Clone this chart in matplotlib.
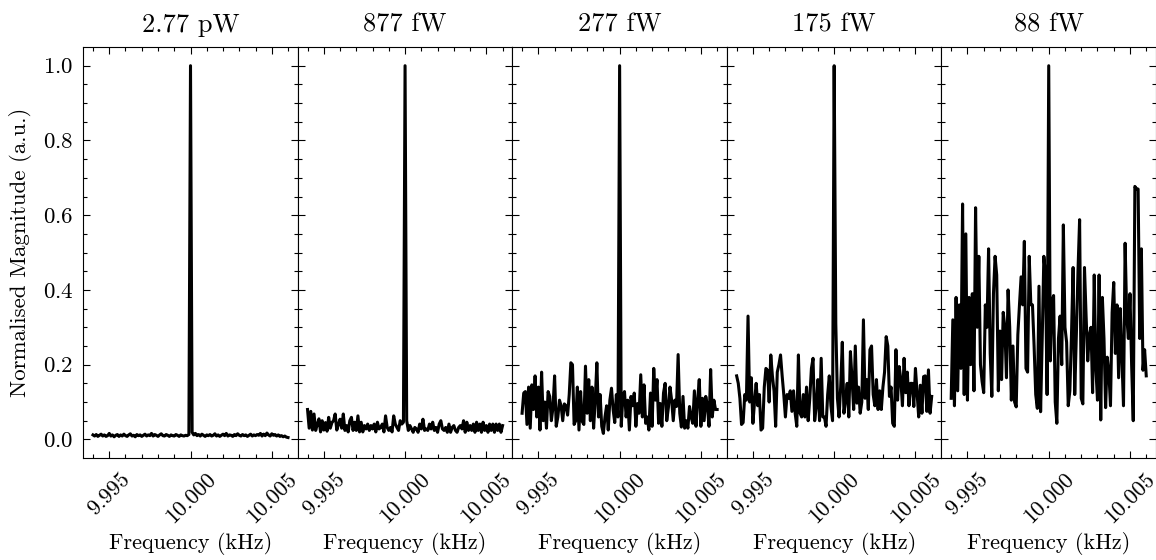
import numpy as np
import matplotlib.pyplot as plt

plt.rcParams["font.family"] = "cmr10"
plt.rcParams["mathtext.fontset"] = "cm"
plt.rcParams["axes.formatter.use_mathtext"] = True
plt.rcParams["axes.unicode_minus"] = False

# Frequency grid (kHz), 0.1 Hz steps around the 10 kHz tone
freq_start = 9.994
freq_step = 0.0001
n_points = 121

powers = ["2.77 pW", "877 fW", "277 fW", "175 fW", "88 fW"]

# Normalised magnitude for each received power
mag_2p77pw = [
    0.012, 0.009, 0.013, 0.008, 0.011, 0.014, 0.009, 0.012, 0.008, 0.010,
    0.016, 0.009, 0.012, 0.007, 0.011, 0.013, 0.008, 0.012, 0.009, 0.014,
    0.010, 0.008, 0.012, 0.015, 0.009, 0.011, 0.007, 0.013, 0.010, 0.012,
    0.008, 0.011, 0.014, 0.009, 0.012, 0.010, 0.016, 0.009, 0.013, 0.011,
    0.008, 0.012, 0.015, 0.010, 0.009, 0.013, 0.011, 0.008, 0.012, 0.010,
    0.009, 0.013, 0.011, 0.008, 0.012, 0.010, 0.009, 0.011, 0.010, 0.013,
    1.000, 0.019, 0.012, 0.016, 0.010, 0.013, 0.009, 0.014, 0.011, 0.008,
    0.012, 0.010, 0.013, 0.009, 0.011, 0.015, 0.009, 0.012, 0.008, 0.011,
    0.014, 0.010, 0.016, 0.009, 0.012, 0.011, 0.008, 0.013, 0.010, 0.015,
    0.011, 0.009, 0.013, 0.010, 0.012, 0.008, 0.011, 0.014, 0.009, 0.012,
    0.010, 0.013, 0.011, 0.016, 0.009, 0.014, 0.010, 0.017, 0.012, 0.009,
    0.015, 0.011, 0.013, 0.009, 0.012, 0.008, 0.010, 0.007, 0.009, 0.006,
    0.005,
]
mag_877fw = [
    0.080, 0.030, 0.075, 0.025, 0.068, 0.024, 0.040, 0.055, 0.020, 0.050,
    0.025, 0.045, 0.022, 0.059, 0.030, 0.045, 0.050, 0.068, 0.025, 0.040,
    0.054, 0.030, 0.068, 0.024, 0.037, 0.020, 0.050, 0.059, 0.024, 0.046,
    0.024, 0.063, 0.020, 0.046, 0.020, 0.037, 0.028, 0.041, 0.024, 0.037,
    0.028, 0.041, 0.020, 0.046, 0.028, 0.032, 0.041, 0.020, 0.063, 0.032,
    0.024, 0.032, 0.020, 0.063, 0.041, 0.032, 0.024, 0.050, 0.041, 0.046,
    1.000, 0.050, 0.024, 0.037, 0.028, 0.019, 0.032, 0.028, 0.019, 0.041,
    0.028, 0.054, 0.024, 0.028, 0.024, 0.041, 0.028, 0.046, 0.024, 0.032,
    0.019, 0.041, 0.050, 0.028, 0.024, 0.032, 0.019, 0.041, 0.019, 0.032,
    0.037, 0.024, 0.019, 0.032, 0.037, 0.028, 0.050, 0.019, 0.046, 0.024,
    0.037, 0.024, 0.041, 0.019, 0.046, 0.024, 0.041, 0.019, 0.046, 0.024,
    0.037, 0.019, 0.041, 0.024, 0.041, 0.019, 0.041, 0.024, 0.041, 0.019,
    0.037,
]
mag_277fw = [
    0.070, 0.124, 0.128, 0.040, 0.140, 0.030, 0.146, 0.080, 0.170, 0.060,
    0.140, 0.025, 0.180, 0.050, 0.100, 0.030, 0.128, 0.115, 0.050, 0.085,
    0.170, 0.035, 0.060, 0.105, 0.090, 0.050, 0.095, 0.090, 0.065, 0.120,
    0.205, 0.200, 0.040, 0.050, 0.140, 0.025, 0.128, 0.048, 0.040, 0.196,
    0.070, 0.160, 0.050, 0.140, 0.030, 0.105, 0.205, 0.060, 0.120, 0.035,
    0.016, 0.060, 0.090, 0.025, 0.105, 0.137, 0.080, 0.045, 0.120, 0.060,
    1.000, 0.035, 0.115, 0.128, 0.060, 0.105, 0.025, 0.115, 0.090, 0.124,
    0.035, 0.096, 0.070, 0.173, 0.060, 0.146, 0.043, 0.060, 0.025, 0.124,
    0.035, 0.190, 0.105, 0.160, 0.043, 0.096, 0.035, 0.124, 0.150, 0.050,
    0.085, 0.140, 0.105, 0.050, 0.105, 0.088, 0.227, 0.070, 0.033, 0.115,
    0.030, 0.050, 0.030, 0.088, 0.060, 0.043, 0.130, 0.035, 0.105, 0.160,
    0.035, 0.110, 0.050, 0.115, 0.090, 0.035, 0.187, 0.060, 0.105, 0.080,
    0.080,
]
mag_175fw = [
    0.170, 0.150, 0.110, 0.040, 0.045, 0.120, 0.105, 0.330, 0.100, 0.165,
    0.043, 0.100, 0.150, 0.090, 0.120, 0.025, 0.030, 0.140, 0.190, 0.185,
    0.100, 0.226, 0.170, 0.130, 0.035, 0.180, 0.200, 0.226, 0.170, 0.120,
    0.060, 0.120, 0.110, 0.130, 0.075, 0.130, 0.070, 0.035, 0.226, 0.070,
    0.060, 0.120, 0.060, 0.140, 0.050, 0.110, 0.190, 0.217, 0.050, 0.090,
    0.160, 0.050, 0.217, 0.060, 0.060, 0.035, 0.120, 0.170, 0.090, 0.050,
    1.000, 0.310, 0.110, 0.060, 0.140, 0.260, 0.070, 0.105, 0.150, 0.060,
    0.235, 0.160, 0.080, 0.250, 0.097, 0.140, 0.070, 0.100, 0.320, 0.110,
    0.160, 0.080, 0.240, 0.250, 0.120, 0.090, 0.160, 0.080, 0.130, 0.080,
    0.140, 0.180, 0.275, 0.250, 0.115, 0.140, 0.043, 0.035, 0.240, 0.105,
    0.195, 0.160, 0.090, 0.217, 0.125, 0.180, 0.090, 0.150, 0.150, 0.088,
    0.190, 0.125, 0.060, 0.145, 0.070, 0.168, 0.170, 0.075, 0.186, 0.070,
    0.115,
]
mag_88fw = [
    0.110, 0.320, 0.090, 0.380, 0.130, 0.360, 0.190, 0.630, 0.120, 0.550,
    0.105, 0.380, 0.200, 0.390, 0.130, 0.620, 0.300, 0.490, 0.200, 0.155,
    0.125, 0.360, 0.300, 0.510, 0.230, 0.115, 0.390, 0.490, 0.440, 0.130,
    0.290, 0.160, 0.340, 0.300, 0.165, 0.400, 0.300, 0.105, 0.250, 0.100,
    0.087, 0.280, 0.360, 0.435, 0.360, 0.530, 0.190, 0.180, 0.490, 0.360,
    0.360, 0.250, 0.120, 0.083, 0.410, 0.074, 0.270, 0.490, 0.440, 0.120,
    1.000, 0.210, 0.370, 0.385, 0.100, 0.043, 0.270, 0.330, 0.200, 0.574,
    0.300, 0.260, 0.090, 0.130, 0.280, 0.460, 0.120, 0.280, 0.450, 0.588,
    0.110, 0.095, 0.460, 0.330, 0.210, 0.280, 0.300, 0.125, 0.440, 0.190,
    0.105, 0.440, 0.052, 0.380, 0.270, 0.085, 0.220, 0.180, 0.090, 0.340,
    0.420, 0.230, 0.360, 0.165, 0.350, 0.220, 0.090, 0.525, 0.330, 0.270,
    0.390, 0.200, 0.050, 0.677, 0.670, 0.670, 0.270, 0.510, 0.185, 0.240,
    0.170,
]
spectra = [mag_2p77pw, mag_877fw, mag_277fw, mag_175fw, mag_88fw]

freq = freq_start + freq_step * np.arange(n_points)

fig, axes = plt.subplots(1, 5, sharey=True, figsize=(11.56, 5.6), dpi=100)
fig.subplots_adjust(left=0.072, right=1.0, top=0.916, bottom=0.182, wspace=0)

for ax, title, mag in zip(axes, powers, spectra):
    ax.plot(freq, mag, color="black", lw=2.2)
    ax.set_title(title, fontsize=19, pad=11)
    ax.set_xlim(9.9934, 10.0066)
    ax.set_ylim(-0.05, 1.05)
    ax.set_xticks([9.995, 10.000, 10.005])
    ax.set_xticklabels(["9.995", "10.000", "10.005"], rotation=45)
    ax.set_xticks(np.arange(9.994, 10.0065, 0.001), minor=True)
    ax.set_yticks([0.0, 0.2, 0.4, 0.6, 0.8, 1.0])
    ax.set_yticks(np.arange(0.0, 1.01, 0.05), minor=True)
    ax.tick_params(which="both", direction="in", top=True, right=True,
                   labelsize=16.5, width=0.8, pad=7)
    ax.tick_params(axis="x", which="major", labelsize=16, pad=8)
    ax.tick_params(which="major", length=5)
    ax.tick_params(which="minor", length=3)
    ax.set_xlabel("Frequency (kHz)", fontsize=16, labelpad=4)
    for s in ax.spines.values():
        s.set_linewidth(0.8)

axes[0].set_ylabel("Normalised Magnitude (a.u.)", fontsize=16.5, labelpad=8)

plt.savefig("out.png", dpi=100)
